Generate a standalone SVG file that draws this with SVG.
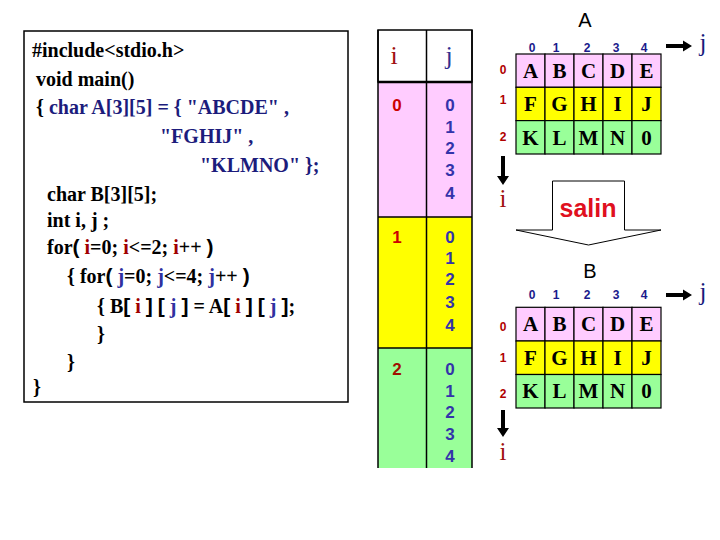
<svg xmlns="http://www.w3.org/2000/svg" width="720" height="540" viewBox="0 0 720 540">
<defs>
<style>
.code{font-family:"Liberation Serif","Times New Roman",serif;font-weight:bold;font-size:20px;fill:#000;white-space:pre}
.nv{fill:#1c1c7c}
.ri{fill:#a00000}
.bj{fill:#3030a0}
.br{font-family:"Liberation Sans",Arial,sans-serif;font-size:21px}
.hd{font-family:"Liberation Serif","Times New Roman",serif;font-size:26px;text-anchor:middle}
.dg{font-family:"Liberation Sans",Arial,sans-serif;font-weight:bold;font-size:17px;text-anchor:middle}
.cl{font-family:"Liberation Sans",Arial,sans-serif;font-weight:bold;font-size:12px;text-anchor:middle;fill:#1a1a8c}
.rl{font-family:"Liberation Sans",Arial,sans-serif;font-weight:bold;font-size:12px;text-anchor:middle;fill:#b00000}
.lt{font-family:"Liberation Serif","Times New Roman",serif;font-weight:bold;font-size:21px;text-anchor:middle;fill:#000}
.ttl{font-family:"Liberation Sans",Arial,sans-serif;font-size:20px;text-anchor:middle;fill:#000}
.ax{font-family:"Liberation Serif","Times New Roman",serif;font-size:25px;text-anchor:middle}
.cell{stroke:#000;stroke-width:1.2}
.pk{fill:#ffccff}.ye{fill:#ffff00}.gr{fill:#99ff99}
.arr{fill:#000}
</style>
</defs>
<rect width="720" height="540" fill="#fff"/>

<g id="code">
<rect x="24" y="31" width="324" height="371" fill="#fff" stroke="#000" stroke-width="1.5"/>
<text class="code" x="32" y="57">#include&lt;stdio.h&gt;</text>
<text class="code" x="36" y="86">void main()</text>
<text class="code" x="36" y="114">{ <tspan class="nv">char A[3][5] = { "ABCDE" ,</tspan></text>
<text class="code nv" x="160" y="143">"FGHIJ" ,</text>
<text class="code nv" x="200" y="172">"KLMNO" };</text>
<text class="code" x="47" y="201">char B[3][5];</text>
<text class="code" x="47" y="227">int i, j ;</text>
<text class="code" x="47" y="254">for<tspan class="br">(</tspan> <tspan class="ri">i</tspan>=0; <tspan class="ri">i</tspan>&lt;=2; <tspan class="ri">i</tspan>++ <tspan class="br">)</tspan></text>
<text class="code" x="67" y="283">{ for<tspan class="br">(</tspan> <tspan class="bj">j</tspan>=0; <tspan class="bj">j</tspan>&lt;=4; <tspan class="bj">j</tspan>++ <tspan class="br">)</tspan></text>
<text class="code" x="97" y="313">{ B<tspan class="br">[</tspan> <tspan class="ri">i</tspan> <tspan class="br">]</tspan> <tspan class="br">[</tspan> <tspan class="bj">j</tspan> <tspan class="br">]</tspan> = A<tspan class="br">[</tspan> <tspan class="ri">i</tspan> <tspan class="br">]</tspan> <tspan class="br">[</tspan> <tspan class="bj">j</tspan> <tspan class="br">]</tspan>;</text>
<text class="code" x="97" y="341">}</text>
<text class="code" x="67" y="369">}</text>
<text class="code" x="33" y="394">}</text>
</g>

<g id="trace-table">
<rect x="378" y="30" width="94" height="52" fill="#fff" stroke="#000" stroke-width="1.5"/>
<rect x="378" y="82" width="94" height="135" class="pk"/>
<rect x="378" y="217" width="94" height="131" class="ye"/>
<rect x="378" y="348" width="94" height="120" class="gr"/>
<g stroke="#000" stroke-width="1.5" fill="none">
<line x1="378" y1="30" x2="378" y2="468"/>
<line x1="472" y1="30" x2="472" y2="468"/>
<line x1="426.5" y1="30" x2="426.5" y2="468"/>
<line x1="378" y1="82" x2="472" y2="82" stroke-width="2.5"/>
<line x1="378" y1="217" x2="472" y2="217"/>
<line x1="378" y1="348" x2="472" y2="348"/>
</g>
<text class="hd" x="394" y="64" fill="#a01010">i</text>
<text class="hd" x="449" y="64" fill="#303090">j</text>
<text class="dg" x="397" y="111" fill="#cc0000">0</text>
<text class="dg" x="450" y="111" fill="#3333aa">0</text>
<text class="dg" x="450" y="133" fill="#3333aa">1</text>
<text class="dg" x="450" y="154" fill="#3333aa">2</text>
<text class="dg" x="450" y="176" fill="#3333aa">3</text>
<text class="dg" x="450" y="199" fill="#3333aa">4</text>
<text class="dg" x="397" y="243" fill="#cc0000">1</text>
<text class="dg" x="450" y="243" fill="#3333aa">0</text>
<text class="dg" x="450" y="264" fill="#3333aa">1</text>
<text class="dg" x="450" y="285" fill="#3333aa">2</text>
<text class="dg" x="450" y="308" fill="#3333aa">3</text>
<text class="dg" x="450" y="331" fill="#3333aa">4</text>
<text class="dg" x="397" y="375" fill="#a01000">2</text>
<text class="dg" x="450" y="375" fill="#3333aa">0</text>
<text class="dg" x="450" y="397" fill="#3333aa">1</text>
<text class="dg" x="450" y="418" fill="#3333aa">2</text>
<text class="dg" x="450" y="440" fill="#3333aa">3</text>
<text class="dg" x="450" y="462" fill="#3333aa">4</text>
</g>

<g id="array-A">
<text class="ttl" x="585" y="27">A</text>
<text class="cl" x="532" y="52">0</text>
<text class="cl" x="556" y="52">1</text>
<text class="cl" x="587" y="52">2</text>
<text class="cl" x="616" y="52">3</text>
<text class="cl" x="644" y="52">4</text>
<text class="rl" x="503" y="74">0</text>
<text class="rl" x="503" y="104">1</text>
<text class="rl" x="503" y="141">2</text>
<g class="cell">
<rect class="pk" x="516" y="54" width="29" height="33.3"/><rect class="pk" x="545" y="54" width="29" height="33.3"/><rect class="pk" x="574" y="54" width="29" height="33.3"/><rect class="pk" x="603" y="54" width="29" height="33.3"/><rect class="pk" x="632" y="54" width="29" height="33.3"/>
<rect class="ye" x="516" y="87.3" width="29" height="33.3"/><rect class="ye" x="545" y="87.3" width="29" height="33.3"/><rect class="ye" x="574" y="87.3" width="29" height="33.3"/><rect class="ye" x="603" y="87.3" width="29" height="33.3"/><rect class="ye" x="632" y="87.3" width="29" height="33.3"/>
<rect class="gr" x="516" y="120.6" width="29" height="33.4"/><rect class="gr" x="545" y="120.6" width="29" height="33.4"/><rect class="gr" x="574" y="120.6" width="29" height="33.4"/><rect class="gr" x="603" y="120.6" width="29" height="33.4"/><rect class="gr" x="632" y="120.6" width="29" height="33.4"/>
</g>
<text class="lt" x="530.5" y="78">A</text><text class="lt" x="559.5" y="78">B</text><text class="lt" x="588.5" y="78">C</text><text class="lt" x="617.5" y="78">D</text><text class="lt" x="646.5" y="78">E</text>
<text class="lt" x="530.5" y="111">F</text><text class="lt" x="559.5" y="111">G</text><text class="lt" x="588.5" y="111">H</text><text class="lt" x="617.5" y="111">I</text><text class="lt" x="646.5" y="111">J</text>
<text class="lt" x="530.5" y="145">K</text><text class="lt" x="559.5" y="145">L</text><text class="lt" x="588.5" y="145">M</text><text class="lt" x="617.5" y="145">N</text><text class="lt" x="646.5" y="145">0</text>
<text class="ax" x="703" y="51" fill="#1a1a7c">j</text>
<text class="ax" x="503" y="207" fill="#a01010">i</text>
</g>

<g id="salin">
<polygon points="552.5,181 624.5,181 624.5,230 661,230 588.5,245 516,230 552.5,230" fill="#fff" stroke="#000" stroke-width="1"/>
<text x="588" y="217" font-family="Liberation Sans,Arial,sans-serif" font-weight="bold" font-size="25" text-anchor="middle" fill="#e01020">salin</text>
</g>

<g id="array-B">
<text class="ttl" x="590" y="278">B</text>
<text class="cl" x="532" y="299">0</text>
<text class="cl" x="556" y="299">1</text>
<text class="cl" x="587" y="299">2</text>
<text class="cl" x="616" y="299">3</text>
<text class="cl" x="644" y="299">4</text>
<text class="rl" x="503" y="331">0</text>
<text class="rl" x="503" y="362">1</text>
<text class="rl" x="503" y="398">2</text>
<g class="cell">
<rect class="pk" x="516" y="307.3" width="29" height="33.7"/><rect class="pk" x="545" y="307.3" width="29" height="33.7"/><rect class="pk" x="574" y="307.3" width="29" height="33.7"/><rect class="pk" x="603" y="307.3" width="29" height="33.7"/><rect class="pk" x="632" y="307.3" width="29" height="33.7"/>
<rect class="ye" x="516" y="341" width="29" height="33.5"/><rect class="ye" x="545" y="341" width="29" height="33.5"/><rect class="ye" x="574" y="341" width="29" height="33.5"/><rect class="ye" x="603" y="341" width="29" height="33.5"/><rect class="ye" x="632" y="341" width="29" height="33.5"/>
<rect class="gr" x="516" y="374.5" width="29" height="33.5"/><rect class="gr" x="545" y="374.5" width="29" height="33.5"/><rect class="gr" x="574" y="374.5" width="29" height="33.5"/><rect class="gr" x="603" y="374.5" width="29" height="33.5"/><rect class="gr" x="632" y="374.5" width="29" height="33.5"/>
</g>
<text class="lt" x="530.5" y="331">A</text><text class="lt" x="559.5" y="331">B</text><text class="lt" x="588.5" y="331">C</text><text class="lt" x="617.5" y="331">D</text><text class="lt" x="646.5" y="331">E</text>
<text class="lt" x="530.5" y="365">F</text><text class="lt" x="559.5" y="365">G</text><text class="lt" x="588.5" y="365">H</text><text class="lt" x="617.5" y="365">I</text><text class="lt" x="646.5" y="365">J</text>
<text class="lt" x="530.5" y="398">K</text><text class="lt" x="559.5" y="398">L</text><text class="lt" x="588.5" y="398">M</text><text class="lt" x="617.5" y="398">N</text><text class="lt" x="646.5" y="398">0</text>
<text class="ax" x="703" y="300" fill="#1a1a7c">j</text>
<text class="ax" x="503" y="460" fill="#a01010">i</text>
</g>

<g id="connectors">
<polygon class="arr" points="666,44 683,44 683,40.5 692,46 683,51.5 683,48 666,48"/>
<polygon class="arr" points="501,156 505,156 505,176 509,176 503,185 497,176 501,176"/>
<polygon class="arr" points="666,293 683,293 683,289.5 692,295 683,300.5 683,297 666,297"/>
<polygon class="arr" points="501,410 505,410 505,428 509,428 503,437 497,428 501,428"/>
</g>
</svg>
